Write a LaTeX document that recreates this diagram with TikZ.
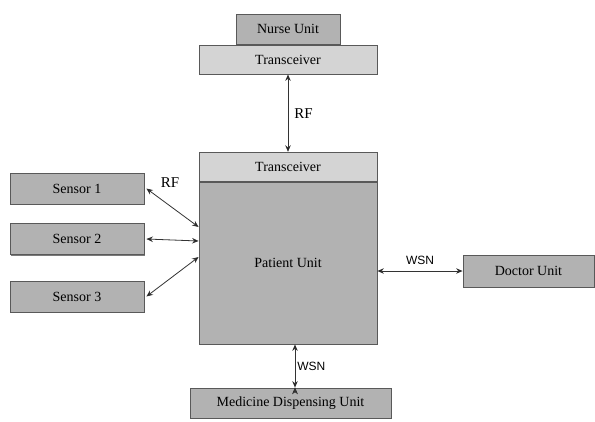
\documentclass[tikz,border=0pt]{standalone}
\usepackage{fontspec}
\setmainfont{Liberation Serif}
\newfontfamily\wsnfont{Liberation Sans}
\usetikzlibrary{positioning,arrows.meta,shadows}

\begin{document}
\begin{tikzpicture}[x=1pt,y=-1pt,>={Stealth[length=6.5pt,width=5.5pt]},line width=0.8pt,
      unit/.style={draw=black!65,fill=black!30,inner sep=0pt,font=\fontsize{14}{16}\selectfont,
        drop shadow={shadow xshift=1.2pt,shadow yshift=-1.2pt,fill=black!65,opacity=0.8}},
      trx/.style={unit,fill=black!17},
      sensor/.style={unit,minimum width=134pt,minimum height=31pt},
      rf/.style={font=\fontsize{15}{17}\selectfont,inner sep=2pt},
      wsn/.style={font=\wsnfont\fontsize{12}{14}\selectfont,inner sep=2pt}]
      \useasboundingbox (0,0) rectangle (595,421);

      \node[trx,minimum width=178pt,minimum height=29pt] (ntrx) at (288,59.5) {Transceiver};
      \node[unit,minimum width=104pt,minimum height=30pt] (nurse) [above=0pt of ntrx] {Nurse Unit};
      \node[unit,minimum width=178pt,minimum height=162pt] (pu) at (288,263) {Patient Unit};
      \node[trx,minimum width=178pt,minimum height=29pt] (ptrx) [above=0pt of pu] {Transceiver};
      \node[unit,minimum width=131pt,minimum height=32pt] (doc) at (528.5,271) {Doctor Unit};
      \node[unit,minimum width=201pt,minimum height=30pt] (med) at (290.5,403) {Medicine Dispensing Unit};
      \node[sensor] (s1) at (77,188.5) {Sensor 1};
      \node[sensor] (s2) at (77,239) {Sensor 2};
      \node[sensor] (s3) at (77,296.5) {Sensor 3};
      \node[rf] (rfs) at (170,183) {RF};

      \path[<->,draw=black!80]
        (ntrx) edge node[rf,right=4pt] {RF} (ptrx)
        ([xshift=2pt]s1.east) edge ([yshift=36pt]pu.west)
        ([xshift=2pt]s2.east) edge ([yshift=22pt]pu.west)
        ([xshift=2pt]s3.east) edge ([yshift=6pt]pu.west)
        (doc.west -| pu.east) edge node[wsn,above=4pt] {WSN} (doc.west)
        ([xshift=4.5pt]med.north) edge node[wsn,right] {WSN} ([xshift=4.5pt]med.north |- pu.south);
\end{tikzpicture}
\end{document}
